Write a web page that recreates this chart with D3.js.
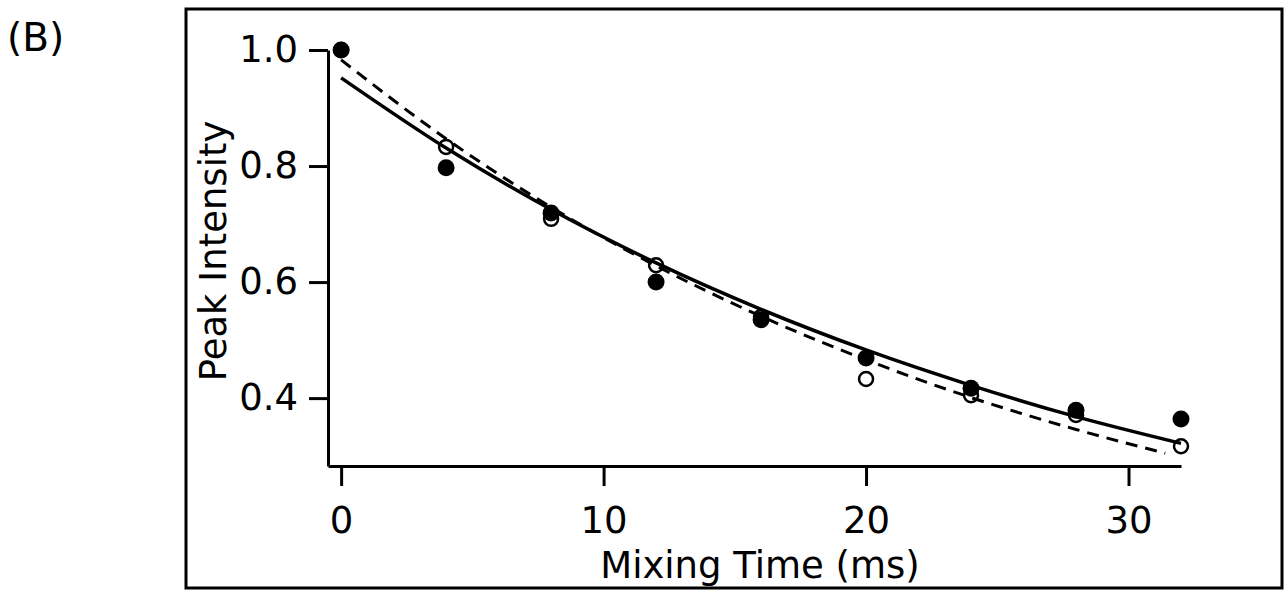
<!DOCTYPE html>
<html>
<head>
<meta charset="utf-8">
<script src="https://cdn.jsdelivr.net/npm/d3@7"></script>
<style>
  body { margin: 0; background: #fff; }
  svg { display: block; }
</style>
</head>
<body>
<div class="canvas"></div>
<script>
// mixing times (ms)
const times = [0, 4, 8, 12, 16, 20, 24, 28, 32];
// filled circles
const filledVals = [1.0, 0.797, 0.719, 0.600, 0.535, 0.469, 0.417, 0.379, 0.364];
// open circles
const openVals = [1.0, 0.833, 0.709, 0.629, 0.540, 0.433, 0.405, 0.371, 0.317];
// fit curves
const solidTimes = [0, 4, 8, 12, 16, 20, 24, 28, 32];
const solidVals = [0.952, 0.831, 0.725, 0.633, 0.553, 0.483, 0.422, 0.368, 0.322];
const dashTimes = [0, 4, 8, 12, 16, 20, 24, 28, 31.4];
const dashVals = [0.983, 0.847, 0.729, 0.628, 0.541, 0.466, 0.401, 0.346, 0.305];

const xTicks = [0, 10, 20, 30];
const yTicks = [0.4, 0.6, 0.8, 1.0];

const W = 1287, H = 595;
const font = '"DejaVu Sans", "Noto Sans", sans-serif';
const fs = 37;

const svg = d3.select('.canvas')
    .append('svg')
    .attr('width', W)
    .attr('height', H);

// outer frame
svg.append('rect')
    .attr('x', 186).attr('y', 9)
    .attr('width', 1096).attr('height', 579)
    .attr('fill', 'none')
    .attr('stroke', '#000')
    .attr('stroke-width', 3);

svg.append('text')
    .attr('x', 7).attr('y', 51)
    .attr('font-family', font)
    .attr('font-size', 39)
    .text('(B)');

const x = d3.scaleLinear().domain([-0.5, 32]).range([328, 1181]);
const y = d3.scaleLinear().domain([0.283, 1.0]).range([466, 50]);

// axes
const xAxis = d3.axisBottom(x)
    .tickValues(xTicks)
    .tickSize(20)
    .tickSizeOuter(0)
    .tickPadding(21)
    .tickFormat(d3.format('d'));

const yAxis = d3.axisLeft(y)
    .tickValues(yTicks)
    .tickSize(19)
    .tickSizeOuter(0)
    .tickPadding(11)
    .tickFormat(d3.format('.1f'));

const gx = svg.append('g')
    .attr('transform', `translate(0,${y(0.283)})`)
    .call(xAxis);

const gy = svg.append('g')
    .attr('transform', `translate(${x(-0.5)},0)`)
    .call(yAxis);

[gx, gy].forEach(g => {
    g.selectAll('path, line').attr('stroke', '#000').attr('stroke-width', 3);
    g.selectAll('text')
        .attr('fill', '#000')
        .attr('font-family', font)
        .attr('font-size', fs);
});

// axis titles
svg.append('text')
    .attr('x', 760).attr('y', 578)
    .attr('text-anchor', 'middle')
    .attr('font-family', font)
    .attr('font-size', fs)
    .text('Mixing Time (ms)');

svg.append('text')
    .attr('transform', 'translate(226,251) rotate(-90)')
    .attr('text-anchor', 'middle')
    .attr('font-family', font)
    .attr('font-size', fs)
    .text('Peak Intensity');

// fit lines
const line = d3.line()
    .x(d => x(d[0]))
    .y(d => y(d[1]))
    .curve(d3.curveMonotoneX);

svg.append('path')
    .datum(d3.zip(solidTimes, solidVals))
    .attr('d', line)
    .attr('fill', 'none')
    .attr('stroke', '#000')
    .attr('stroke-width', 3.5);

svg.append('path')
    .datum(d3.zip(dashTimes, dashVals))
    .attr('d', line)
    .attr('fill', 'none')
    .attr('stroke', '#000')
    .attr('stroke-width', 3)
    .attr('stroke-dasharray', '12,8');

// open circles
svg.append('g').selectAll('circle')
    .data(d3.zip(times, openVals))
    .enter()
    .append('circle')
    .attr('cx', d => x(d[0]))
    .attr('cy', d => y(d[1]))
    .attr('r', 7)
    .attr('fill', 'none')
    .attr('stroke', '#000')
    .attr('stroke-width', 2.5);

// filled circles
svg.append('g').selectAll('circle')
    .data(d3.zip(times, filledVals))
    .enter()
    .append('circle')
    .attr('cx', d => x(d[0]))
    .attr('cy', d => y(d[1]))
    .attr('r', 8.5)
    .attr('fill', '#000');
</script>
</body>
</html>
